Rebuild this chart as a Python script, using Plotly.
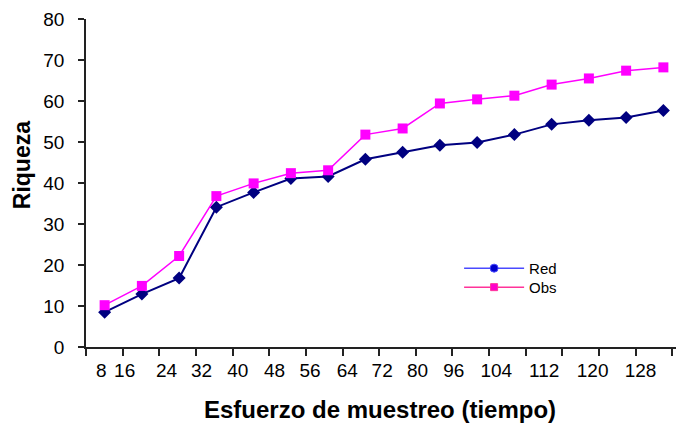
import plotly.graph_objects as go

# Data
tiempo = [8, 16, 24, 32, 40, 48, 56, 64, 72, 80, 88, 96, 104, 112, 120, 128]
red = [8.5, 12.9, 16.8, 34.1, 37.7, 41.1, 41.6, 45.8, 47.5, 49.2, 49.9, 51.8, 54.3, 55.3, 56.0, 57.7]
obs = [10.2, 14.9, 22.2, 36.8, 39.9, 42.4, 43.1, 51.8, 53.3, 59.4, 60.4, 61.3, 64.0, 65.5, 67.4, 68.2]
tick_labels = ["8", "16", "24", "32", "40", "48", "56", "64", "72", "80", "96", "104", "112", "120", "128"]

# Layout constants (axis label / tick placement as seen in the original figure)
label_pos = [7.3, 12.3, 21.3, 28.8, 36.6, 44.5, 52.1, 60.1, 67.6, 75.2, 83.0, 92.1, 102.4, 112.8, 123.1]
tick_marks = [4 + 7.87 * k for k in range(17)]
XR = [4, 132]

FONT = "Liberation Sans, Arial, sans-serif"

fig = go.Figure()
fig.add_trace(go.Scatter(
    x=tiempo, y=red, mode="lines+markers", name="Red", showlegend=False,
    line=dict(color="#000080", width=2),
    marker=dict(symbol="diamond", size=10, color="#000080"),
))
fig.add_trace(go.Scatter(
    x=tiempo, y=obs, mode="lines+markers", name="Obs", showlegend=False,
    line=dict(color="#ff00ff", width=1.5),
    marker=dict(symbol="square", size=10, color="#ff00ff"),
))
# legend entries
fig.add_trace(go.Scatter(
    x=[None], y=[None], mode="lines+markers", name="Red", legend="legend",
    line=dict(color="#4a4aff", width=1.5),
    marker=dict(symbol="circle", size=8, color="#0000cc", line=dict(color="#4a4aff", width=1)),
))
fig.add_trace(go.Scatter(
    x=[None], y=[None], mode="lines+markers", name="Obs", legend="legend2",
    line=dict(color="#ff3399", width=1.5),
    marker=dict(symbol="square", size=7, color="#ff00cc", line=dict(color="#ff3399", width=1)),
))
# invisible trace to carry the label axis
fig.add_trace(go.Scatter(x=XR, y=[None, None], xaxis="x2", showlegend=False, hoverinfo="skip"))

leg_common = dict(
    xanchor="left", yanchor="top", bgcolor="rgba(0,0,0,0)",
    font=dict(size=15, family=FONT), itemwidth=60, tracegroupgap=0,
)

fig.update_layout(
    width=676, height=416,
    margin=dict(l=78, r=2, t=11, b=77),
    paper_bgcolor="white", plot_bgcolor="white",
    font=dict(family=FONT, color="black", size=19),
    showlegend=True,
    legend=dict(x=0.626, y=0.29, **leg_common),
    legend2=dict(x=0.626, y=0.232, **leg_common),
    xaxis=dict(
        range=XR, showgrid=False, zeroline=False, automargin=False,
        showline=True, linecolor="#222", linewidth=1.5,
        tickmode="array", tickvals=tick_marks, ticks="outside", ticklen=7,
        tickcolor="#222", tickwidth=1.5, showticklabels=False,
    ),
    xaxis2=dict(
        range=XR, overlaying="x", side="bottom", anchor="y", automargin=False,
        showgrid=False, zeroline=False, showline=False,
        tickmode="array", tickvals=label_pos, ticktext=tick_labels,
        ticks="", ticklabelstandoff=10, tickfont=dict(size=19),
    ),
    yaxis=dict(
        range=[0, 80], dtick=10, showgrid=False, zeroline=False, automargin=False,
        showline=True, linecolor="#222", linewidth=1.5,
        ticks="outside", ticklen=6, tickcolor="#222", tickwidth=1.5,
        tickfont=dict(size=19), ticklabelstandoff=10,
    ),
    annotations=[
        dict(text="<b>Esfuerzo de muestreo (tiempo)</b>", xref="paper", yref="paper",
             x=0.493, y=-0.192, xanchor="center", yanchor="middle", showarrow=False,
             font=dict(size=24, family=FONT)),
        dict(text="<b>Riqueza</b>", xref="paper", yref="paper",
             x=-0.107, y=0.555, xanchor="center", yanchor="middle", showarrow=False,
             textangle=-90, font=dict(size=23, family=FONT)),
    ],
)

fig.write_html("out.html")
